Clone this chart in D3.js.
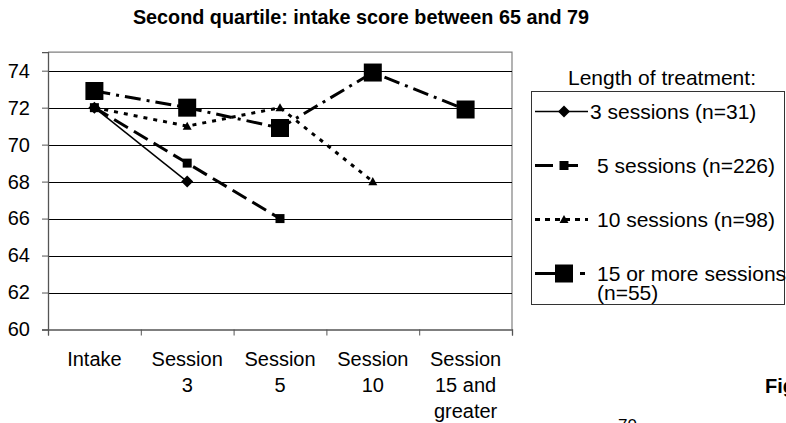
<!DOCTYPE html>
<html>
<head>
<meta charset="utf-8">
<script src="https://cdn.jsdelivr.net/npm/d3@7"></script>
<style>
  body { margin: 0; background: #fff; }
  svg { display: block; font-family: "Liberation Sans", Arial, sans-serif; }
</style>
</head>
<body>
<div id="chart"></div>
<script>
// data
var categories = ["Intake", "Session 3", "Session 5", "Session 10", "Session 15 and greater"];
var tickLines = [["Intake"], ["Session", "3"], ["Session", "5"], ["Session", "10"], ["Session", "15 and", "greater"]];
var yTicks = [60, 62, 64, 66, 68, 70, 72, 74];
var seriesNames = ["3 sessions (n=31)", "5 sessions (n=226)", "10 sessions (n=98)", "15 or more sessions (n=55)"];
var s3 = [72, 68, null, null, null];
var s5 = [72, 69, 66, null, null];
var s10 = [72, 71, 72, 68, null];
var s15 = [72.9, 72, 70.9, 73.9, 71.9];

var width = 786, height = 423;
var plot = {left: 48, right: 512, top: 52.2, bottom: 329.5};

var svg = d3.select("#chart").append("svg")
    .attr("width", width)
    .attr("height", height);

var x = d3.scaleBand()
    .domain(categories)
    .range([plot.left, plot.right]);

// boundaries between categories, for the tick marks
var xb = d3.scaleLinear()
    .domain([0, categories.length])
    .range([plot.left, plot.right]);

var y = d3.scaleLinear()
    .domain([60, 75])
    .range([plot.bottom, plot.top]);

// title
svg.append("text")
    .attr("x", 361)
    .attr("y", 24)
    .attr("text-anchor", "middle")
    .attr("font-weight", "bold")
    .attr("font-size", 19.8)
    .text("Second quartile: intake score between 65 and 79");

// plot border (top + right)
svg.append("path")
    .attr("d", "M" + plot.left + "," + plot.top + "H" + plot.right + "V" + plot.bottom)
    .attr("fill", "none")
    .attr("stroke", "#808080")
    .attr("stroke-width", 1.2);

// gridlines
svg.append("g")
    .selectAll("line")
    .data(yTicks.slice(1))
    .enter().append("line")
    .attr("x1", plot.left)
    .attr("x2", plot.right)
    .attr("y1", function(d) { return Math.round(y(d)) + 0.5; })
    .attr("y2", function(d) { return Math.round(y(d)) + 0.5; })
    .attr("stroke", "#000")
    .attr("stroke-width", 1);

// y axis
var yAxis = svg.append("g")
    .attr("transform", "translate(" + plot.left + ",0)")
    .call(d3.axisLeft(y).tickValues(yTicks).tickSize(6).tickPadding(12));
yAxis.select(".domain").attr("stroke", "#555").attr("stroke-width", 1.3);
yAxis.selectAll(".tick line").attr("stroke", "#555");
yAxis.selectAll("text")
    .attr("font-size", 20)
    .attr("fill", "#000")
    .attr("font-family", "Liberation Sans, Arial, sans-serif");

// x axis: tick marks between categories
var xAxis = svg.append("g")
    .attr("transform", "translate(0," + plot.bottom + ")")
    .call(d3.axisBottom(xb).ticks(categories.length).tickSize(6).tickFormat(""));
xAxis.select(".domain").attr("stroke", "#555").attr("stroke-width", 1.3);
xAxis.selectAll(".tick line").attr("stroke", "#555");

// x labels, several lines each
var xl = svg.append("g")
    .attr("font-size", 20)
    .attr("text-anchor", "middle")
    .selectAll("text")
    .data(categories)
    .enter().append("text")
    .attr("x", function(d) { return x(d) + x.bandwidth() / 2; })
    .attr("y", 366);
xl.selectAll("tspan")
    .data(function(d, i) { return tickLines[i]; })
    .enter().append("tspan")
    .attr("x", function() { var c = d3.select(this.parentNode).datum(); return x(c) + x.bandwidth() / 2; })
    .attr("dy", function(d, i) { return i === 0 ? 0 : 26; })
    .text(function(d) { return d; });

// series styles
var styles = [
  {values: s3, dash: null, legendDash: null, width: 1.5, marker: "diamond", size: 12},
  {values: s5, dash: "16,7", legendDash: "18,7,18,20", width: 3, marker: "square", size: 9},
  {values: s10, dash: "4,6", legendDash: "5,5", width: 3, marker: "triangle", size: 9},
  {values: s15, dash: "16,6,3,6", legendDash: "20,25,5,20", width: 3, marker: "square", size: 18}
];

var line = d3.line()
    .defined(function(d) { return d.v !== null; })
    .x(function(d) { return x(d.c) + x.bandwidth() / 2; })
    .y(function(d) { return y(d.v); });

function markerPath(type, size) {
  var h = size / 2;
  if (type === "diamond") return "M0," + (-h) + "L" + h + ",0L0," + h + "L" + (-h) + ",0Z";
  if (type === "triangle") return "M0," + (-h) + "L" + h + "," + (h * 0.8) + "L" + (-h) + "," + (h * 0.8) + "Z";
  return "M" + (-h) + "," + (-h) + "H" + h + "V" + h + "H" + (-h) + "Z";
}

styles.forEach(function(s) {
  var pts = s.values.map(function(v, i) { return {c: categories[i], v: v}; });
  svg.append("path")
      .datum(pts)
      .attr("fill", "none")
      .attr("stroke", "#000")
      .attr("stroke-width", s.width)
      .attr("stroke-dasharray", s.dash)
      .attr("d", line);
  svg.append("g")
      .selectAll("path")
      .data(pts.filter(function(d) { return d.v !== null; }))
      .enter().append("path")
      .attr("transform", function(d) { return "translate(" + (x(d.c) + x.bandwidth() / 2) + "," + y(d.v) + ")"; })
      .attr("d", markerPath(s.marker, s.size))
      .attr("fill", "#000");
});

// legend
svg.append("text")
    .attr("x", 662)
    .attr("y", 85)
    .attr("text-anchor", "middle")
    .attr("font-size", 21)
    .text("Length of treatment:");

svg.append("rect")
    .attr("x", 531.5)
    .attr("y", 91.5)
    .attr("width", 253)
    .attr("height", 213)
    .attr("fill", "none")
    .attr("stroke", "#333")
    .attr("stroke-width", 1);

var legendY = [111.5, 165.5, 219.5, 273.5];
var legend = svg.append("g")
    .selectAll("g")
    .data(seriesNames)
    .enter().append("g")
    .attr("transform", function(d, i) { return "translate(0," + legendY[i] + ")"; });

legend.append("line")
    .attr("x1", 535)
    .attr("x2", 588)
    .attr("stroke", "#000")
    .attr("stroke-width", function(d, i) { return styles[i].width; })
    .attr("stroke-dasharray", function(d, i) { return styles[i].legendDash; });

legend.append("path")
    .attr("transform", "translate(564,0)")
    .attr("d", function(d, i) { return markerPath(styles[i].marker, styles[i].size); })
    .attr("fill", "#000");

legend.append("text")
    .attr("x", function(d, i) { return i === 0 ? 590 : 597; })
    .attr("y", 7)
    .attr("font-size", 21)
    .each(function(d) {
      var t = d3.select(this);
      var parts = d.indexOf("15 or") === 0 ? ["15 or more sessions", "(n=55)"] : [d];
      parts.forEach(function(p, k) {
        t.append("tspan")
            .attr("x", k === 0 ? t.attr("x") : 597)
            .attr("dy", k === 0 ? 0 : 19)
            .text(p);
      });
    });

// bits of the surrounding page that show at the edges
svg.append("text")
    .attr("x", 765)
    .attr("y", 393)
    .attr("font-weight", "bold")
    .attr("font-size", 20)
    .text("Figure");

svg.append("text")
    .attr("x", 618)
    .attr("y", 431)
    .attr("font-size", 17)
    .text("70");
</script>
</body>
</html>
